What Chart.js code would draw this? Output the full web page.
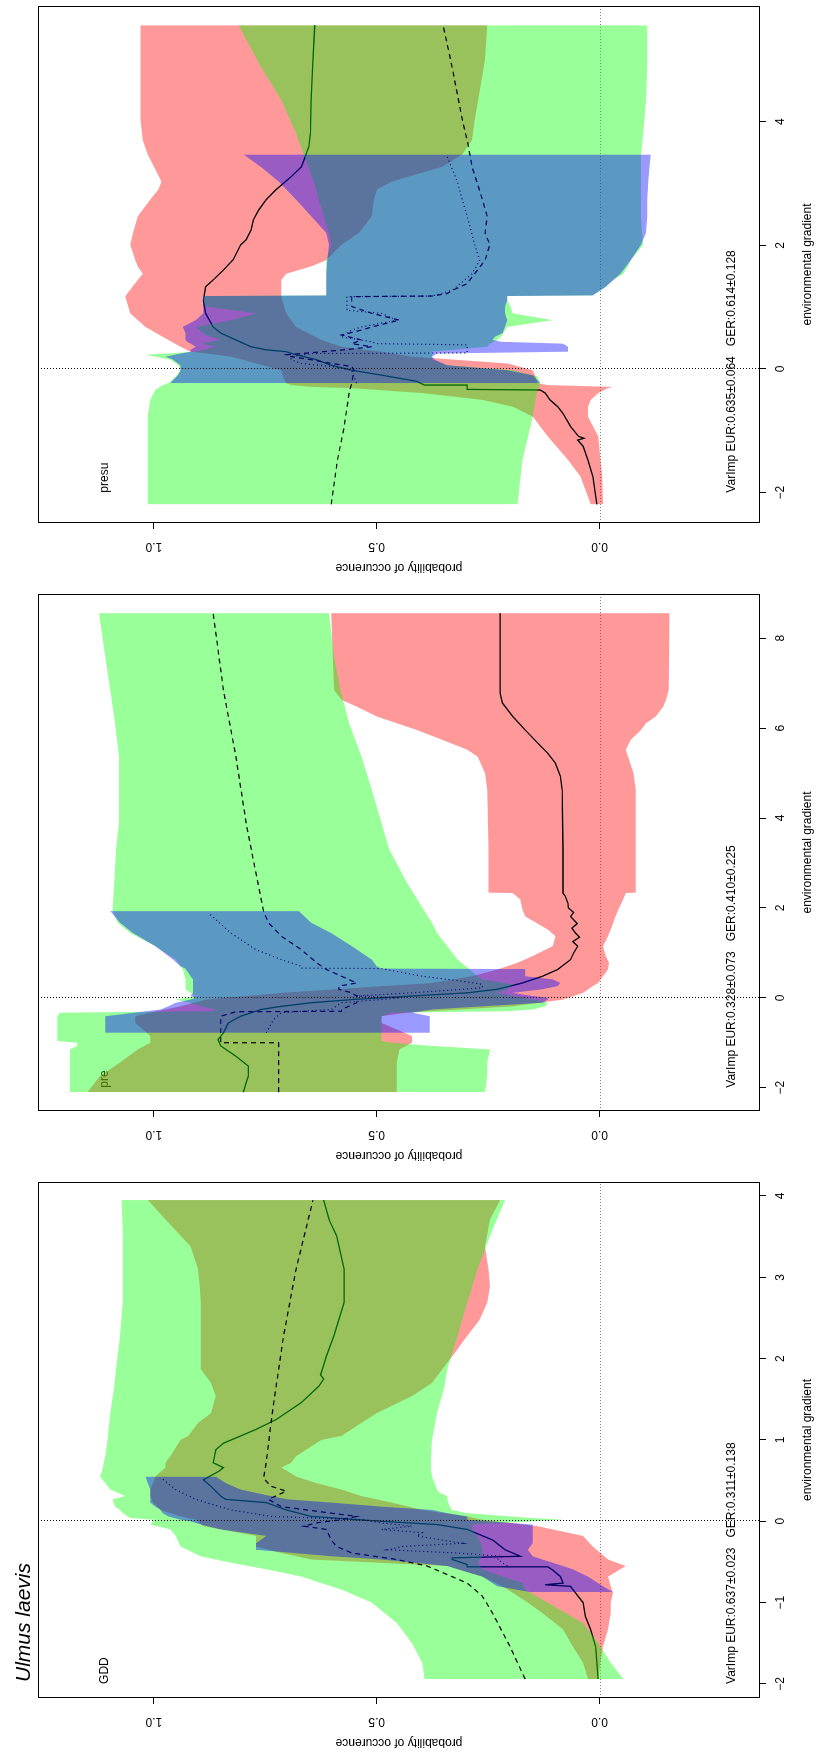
<!DOCTYPE html>
<html><head><meta charset="utf-8">
<script src="https://cdn.jsdelivr.net/npm/chart.js@4.4.1/dist/chart.umd.min.js"></script>
<style>
html,body{margin:0;padding:0;background:#fff;overflow:hidden;width:818px;height:1758px}
#root{position:absolute;left:0;top:0;width:1758px;height:818px;transform-origin:0 0;transform:translate(0px,1758px) rotate(-90deg);background:#fff}
#root canvas{position:absolute;top:0}
</style></head><body>
<div id="root">
<canvas id="cGDD" width="582" height="818" style="left:0px"></canvas>
<canvas id="cPre" width="583" height="818" style="left:587px"></canvas>
<canvas id="cPresu" width="583" height="818" style="left:1175px"></canvas>
</div>
<script>
const FONT = "'Liberation Sans', Arial, Helvetica, sans-serif";

// ---------- shared axis data ----------
const probTicks = [0, 0.5, 1];
const probTickLabels = ['0.0', '0.5', '1.0'];
const speciesTitle = 'Ulmus laevis';

// ---------- GDD ----------
const gddTicks = [-2, -1, 0, 1, 2, 3, 4];
const gddTickLabels = ['\u22122', '\u22121', '0', '1', '2', '3', '4'];
const gddLabel = 'GDD';
const gddVarImp = 'VarImp EUR:0.637\u00b10.023   GER:0.311\u00b10.138';
const gddRedX = [-1.94,-1.74,-1.54,-1.33,-1.13,-1.00,-0.88,-0.80,-0.68,-0.55,-0.47,-0.39,-0.31,-0.18,-0.06,0.02,0.06,0.14,0.23,0.31,0.39,0.47,0.55,0.61,0.66,0.72,0.80,1.00,1.05,1.21,1.33,1.54,1.70,1.87,2.07,2.28,2.48,2.69,2.89,3.10,3.38,3.71,3.95];
const gddRedHi = [0.026,0.037,0.060,0.082,0.128,0.161,0.195,0.218,0.263,0.342,0.647,0.714,0.771,0.771,0.889,0.906,0.940,0.985,1.002,1.008,1.008,1.002,0.997,0.985,0.974,0.974,0.963,0.940,0.923,0.901,0.872,0.861,0.872,0.895,0.895,0.895,0.895,0.895,0.897,0.901,0.918,0.974,1.014];
const gddRedLo = [0.003,-0.002,-0.008,-0.019,-0.025,-0.025,-0.030,-0.025,-0.019,-0.059,-0.019,-0.002,0.015,0.037,0.139,0.263,0.297,0.398,0.466,0.534,0.579,0.635,0.681,0.698,0.714,0.692,0.681,0.624,0.579,0.534,0.500,0.421,0.376,0.353,0.325,0.297,0.269,0.252,0.246,0.249,0.257,0.246,0.223];
const gddGrnX = [-1.94,-1.74,-1.50,-1.25,-1.00,-0.84,-0.76,-0.68,-0.59,-0.51,-0.43,-0.31,-0.18,-0.10,-0.04,0.00,0.02,0.04,0.10,0.14,0.18,0.27,0.31,0.35,0.39,0.47,0.55,0.64,0.80,1.00,1.33,1.66,1.87,2.28,2.69,3.10,3.51,3.95];
const gddGrnHi = [0.393,0.398,0.421,0.455,0.511,0.579,0.624,0.669,0.748,0.827,0.895,0.940,0.951,0.963,1.008,1.002,1.002,1.053,1.070,1.076,1.087,1.093,1.064,1.081,1.098,1.109,1.121,1.115,1.109,1.104,1.098,1.089,1.085,1.076,1.070,1.070,1.070,1.072];
const gddGrnLo = [-0.053,-0.025,0.003,0.037,0.116,0.167,0.173,0.218,0.263,0.274,0.263,0.263,0.274,0.286,0.286,0.150,0.082,0.150,0.297,0.331,0.336,0.342,0.342,0.359,0.365,0.370,0.376,0.378,0.378,0.376,0.365,0.348,0.342,0.319,0.297,0.274,0.246,0.212];
const gddBluX = [-0.87,-0.80,-0.68,-0.59,-0.55,-0.47,-0.43,-0.35,-0.27,-0.18,-0.10,-0.04,0.00,0.02,0.06,0.10,0.14,0.18,0.23,0.27,0.31,0.39,0.47,0.55];
const gddBluHi = [0.156,0.229,0.263,0.319,0.342,0.489,0.602,0.771,0.771,0.748,0.850,0.895,0.918,0.940,0.968,0.980,0.985,0.997,1.008,1.008,1.008,1.008,1.014,1.019];
const gddBluLo = [-0.030,-0.008,0.026,0.060,0.082,0.128,0.150,0.161,0.150,0.150,0.150,0.150,0.250,0.297,0.297,0.342,0.376,0.489,0.602,0.700,0.737,0.805,0.839,0.861];
const gddSolidX = [-1.94,-1.54,-1.33,-1.17,-1.00,-0.88,-0.80,-0.78,-0.76,-0.68,-0.60,-0.56,-0.56,-0.53,-0.47,-0.45,-0.43,-0.39,-0.35,-0.23,-0.10,-0.04,0.00,0.06,0.14,0.23,0.27,0.31,0.43,0.51,0.61,0.66,0.72,0.88,0.96,1.05,1.13,1.25,1.46,1.66,1.75,1.80,1.87,2.03,2.28,2.48,2.69,3.10,3.51,3.71,3.95];
const gddSolidY = [0.003,0.009,0.020,0.032,0.037,0.054,0.065,0.122,0.082,0.088,0.105,0.116,0.297,0.297,0.331,0.331,0.178,0.195,0.212,0.240,0.297,0.365,0.489,0.647,0.703,0.748,0.839,0.850,0.872,0.889,0.856,0.844,0.867,0.861,0.844,0.805,0.771,0.726,0.669,0.630,0.619,0.626,0.622,0.613,0.596,0.585,0.573,0.573,0.590,0.607,0.619];
const gddDashX = [-1.94,-1.54,-1.13,-0.92,-0.76,-0.68,-0.55,-0.47,-0.39,-0.31,-0.23,-0.10,-0.06,-0.02,0.02,0.06,0.10,0.18,0.27,0.37,0.43,0.53,0.72,1.13,1.46,2.28,3.10,3.95];
const gddDashY = [0.167,0.201,0.240,0.263,0.297,0.331,0.387,0.455,0.556,0.590,0.602,0.613,0.664,0.635,0.579,0.545,0.602,0.714,0.743,0.703,0.737,0.754,0.748,0.739,0.731,0.709,0.681,0.643];
const gddDotX = [-0.55,-0.47,-0.43,-0.39,-0.35,-0.31,-0.27,-0.18,-0.14,-0.10,-0.06,-0.02,0.02,0.06,0.14,0.27,0.39,0.53];
const gddDotY = [0.207,0.229,0.218,0.319,0.476,0.442,0.308,0.410,0.398,0.489,0.421,0.489,0.534,0.737,0.827,0.906,0.951,0.983];

// ---------- pre ----------
const preTicks = [-2, 0, 2, 4, 6, 8];
const preTickLabels = ['\u22122', '0', '2', '4', '6', '8'];
const preLabel = 'pre';
const preVarImp = 'VarImp EUR:0.328\u00b10.073   GER:0.410\u00b10.225';
const preRedX = [-2.10,-1.74,-1.44,-1.15,-1.00,-0.85,-0.56,-0.41,-0.33,-0.19,-0.04,0.11,0.26,0.33,0.48,0.63,0.78,0.93,1.15,1.37,1.52,1.81,1.96,2.19,2.33,2.34,3.30,4.63,5.00,5.37,5.52,5.74,5.96,6.11,6.26,6.48,6.63,6.85,8.56];
const preRedHi = [1.149,1.121,1.076,1.036,1.008,1.008,1.042,1.042,1.008,0.940,0.884,0.714,0.489,0.376,0.286,0.229,0.184,0.150,0.105,0.099,0.116,0.167,0.173,0.178,0.195,0.249,0.249,0.252,0.257,0.274,0.297,0.353,0.410,0.455,0.500,0.545,0.579,0.596,0.602];
const preRedLo = [0.455,0.455,0.455,0.449,0.421,0.421,0.489,0.489,0.432,0.195,0.082,0.037,0.015,0.003,-0.008,-0.019,-0.021,-0.014,-0.008,-0.019,-0.025,-0.036,-0.042,-0.053,-0.059,-0.081,-0.081,-0.081,-0.076,-0.064,-0.059,-0.070,-0.093,-0.104,-0.126,-0.143,-0.149,-0.155,-0.157];
const preGrnX = [-2.10,-1.74,-1.44,-1.15,-1.07,-1.00,-0.96,-0.85,-0.56,-0.41,-0.33,-0.30,-0.26,-0.19,-0.11,-0.04,0.04,0.11,0.19,0.30,0.41,0.48,0.63,0.85,1.15,1.44,1.67,1.93,2.56,3.30,3.89,4.63,5.37,6.11,6.85,7.59,8.56];
const preGrnHi = [1.188,1.188,1.188,1.188,1.172,1.172,1.217,1.217,1.217,1.217,1.211,0.872,0.861,0.895,0.918,0.951,0.906,0.918,0.929,0.929,0.929,0.931,0.935,0.951,0.997,1.053,1.081,1.093,1.089,1.085,1.078,1.078,1.078,1.087,1.098,1.109,1.123];
const preGrnLo = [0.257,0.252,0.252,0.246,0.376,0.466,0.489,0.489,0.489,0.489,0.466,0.207,0.150,0.122,0.116,0.150,0.195,0.229,0.207,0.195,0.263,0.274,0.291,0.319,0.342,0.365,0.376,0.393,0.432,0.472,0.489,0.511,0.534,0.562,0.581,0.596,0.607];
const preBluX = [-0.78,-0.56,-0.41,-0.33,-0.26,-0.19,-0.11,-0.04,0.00,0.04,0.11,0.19,0.26,0.33,0.41,0.48,0.56,0.64,0.65,0.70,0.85,1.15,1.44,1.67,1.93];
const preBluHi = [1.109,1.109,1.109,1.042,0.985,0.968,0.951,0.918,0.906,0.918,0.912,0.912,0.912,0.912,0.912,0.918,0.923,0.929,0.929,0.940,0.957,0.997,1.047,1.076,1.098];
const preBluLo = [0.381,0.381,0.381,0.421,0.376,0.263,0.128,0.116,0.116,0.150,0.195,0.128,0.094,0.088,0.105,0.167,0.167,0.167,0.489,0.500,0.511,0.556,0.602,0.647,0.675];
const preSolidX = [-2.10,-1.89,-1.74,-1.52,-1.30,-1.07,-0.93,-0.78,-0.56,-0.41,-0.26,-0.19,-0.11,-0.04,0.04,0.11,0.19,0.33,0.48,0.63,0.85,1.00,1.15,1.25,1.35,1.44,1.55,1.65,1.81,1.90,2.00,2.11,2.26,2.33,3.30,4.63,4.93,5.22,5.44,5.67,5.96,6.26,6.56,6.78,8.56];
const preSolidY = [0.799,0.793,0.788,0.788,0.816,0.850,0.856,0.844,0.833,0.805,0.760,0.714,0.647,0.556,0.421,0.297,0.229,0.173,0.128,0.094,0.065,0.058,0.049,0.060,0.045,0.054,0.062,0.050,0.065,0.058,0.070,0.071,0.077,0.082,0.082,0.084,0.088,0.099,0.116,0.139,0.167,0.195,0.218,0.223,0.223];
const preDashX = [-2.10,-1.00,-1.00,-0.41,-0.31,-0.30,-0.26,-0.11,0.04,0.11,0.19,0.26,0.33,0.48,0.63,0.78,1.07,1.37,1.67,1.93,3.07,3.89,5.37,6.85,8.56];
const preDashY = [0.720,0.720,0.850,0.850,0.816,0.579,0.579,0.545,0.545,0.556,0.585,0.585,0.545,0.579,0.613,0.635,0.669,0.714,0.743,0.754,0.777,0.793,0.816,0.844,0.867];
const preDotX = [-0.78,-0.48,-0.33,-0.26,-0.11,0.00,0.04,0.11,0.22,0.30,0.37,0.48,0.65,0.66,0.70,0.85,1.07,1.44,1.89];
const preDotY = [0.748,0.731,0.714,0.602,0.579,0.444,0.545,0.421,0.263,0.263,0.308,0.398,0.489,0.669,0.669,0.714,0.771,0.827,0.878];

// ---------- presu ----------
const presuTicks = [-2, 0, 2, 4];
const presuTickLabels = ['\u22122', '0', '2', '4'];
const presuLabel = 'presu';
const presuVarImp = 'VarImp EUR:0.635\u00b10.064   GER:0.614\u00b10.128';
const presuRedX = [-2.19,-1.74,-1.47,-1.09,-0.77,-0.61,-0.50,-0.39,-0.31,-0.29,-0.26,-0.23,-0.12,-0.02,0.09,0.20,0.28,0.36,0.47,0.68,0.90,1.17,1.22,1.44,1.54,1.66,1.76,2.01,2.20,2.47,2.74,2.90,3.03,3.27,3.47,3.70,4.03,4.50,5.00,5.56];
const presuRedHi = [0.020,0.043,0.071,0.116,0.150,0.195,0.263,0.398,0.556,0.647,0.692,0.703,0.710,0.714,0.771,0.827,0.918,0.940,0.968,1.019,1.053,1.064,1.060,1.036,1.025,1.036,1.042,1.053,1.047,1.036,1.008,0.990,0.983,1.000,1.014,1.025,1.030,1.030,1.030,1.030];
const presuRedLo = [-0.008,-0.006,-0.002,0.003,0.026,0.026,0.020,0.003,-0.019,-0.030,0.116,0.139,0.144,0.150,0.207,0.421,0.489,0.579,0.624,0.681,0.703,0.714,0.714,0.714,0.703,0.647,0.613,0.579,0.540,0.511,0.506,0.500,0.466,0.353,0.308,0.286,0.280,0.269,0.257,0.252];
const presuGrnX = [-2.19,-1.47,-0.77,-0.50,-0.34,-0.26,-0.23,-0.12,-0.02,0.06,0.15,0.23,0.28,0.36,0.41,0.47,0.55,0.68,0.79,0.90,1.01,1.11,1.18,1.19,1.33,1.44,1.54,1.66,1.76,2.01,2.20,2.47,2.74,3.03,3.47,3.81,4.35,4.89,5.56];
const presuGrnHi = [1.014,1.014,1.014,1.008,0.997,0.980,0.968,0.951,0.940,0.945,0.963,1.019,0.906,0.861,0.895,0.850,0.884,0.906,0.827,0.771,0.884,0.889,0.889,0.613,0.613,0.613,0.613,0.613,0.613,0.602,0.607,0.619,0.630,0.641,0.664,0.681,0.714,0.760,0.810];
const presuGrnLo = [0.184,0.173,0.150,0.144,0.139,0.133,0.133,0.139,0.195,0.342,0.376,0.376,0.376,0.252,0.246,0.229,0.218,0.207,0.105,0.195,0.200,0.207,0.207,0.015,-0.014,-0.030,-0.053,-0.064,-0.070,-0.098,-0.095,-0.093,-0.093,-0.093,-0.093,-0.098,-0.104,-0.107,-0.107];
const presuBluX = [-0.23,-0.18,-0.10,-0.02,0.06,0.15,0.20,0.25,0.28,0.31,0.36,0.41,0.44,0.47,0.52,0.58,0.68,0.79,0.90,1.01,1.11,1.18,1.19,1.33,1.54,1.76,2.01,2.20,2.47,2.74,3.03,3.27,3.47];
const presuBluHi = [0.963,0.957,0.946,0.940,0.940,0.957,0.974,0.940,0.918,0.918,0.906,0.918,0.925,0.929,0.929,0.929,0.935,0.906,0.889,0.889,0.889,0.889,0.613,0.613,0.613,0.611,0.607,0.613,0.647,0.681,0.720,0.760,0.799];
const presuBluLo = [0.133,0.139,0.150,0.207,0.342,0.370,0.376,0.365,0.071,0.071,0.071,0.082,0.220,0.240,0.235,0.218,0.212,0.207,0.212,0.212,0.207,0.207,0.015,-0.014,-0.047,-0.070,-0.093,-0.104,-0.107,-0.107,-0.109,-0.112,-0.115];
const presuSolidX = [-2.19,-1.74,-1.47,-1.25,-1.15,-1.12,-1.09,-0.93,-0.72,-0.61,-0.50,-0.39,-0.34,-0.33,-0.27,-0.26,-0.20,-0.10,-0.02,0.06,0.15,0.23,0.28,0.31,0.36,0.47,0.58,0.68,0.90,1.11,1.33,1.44,1.60,1.77,2.01,2.09,2.25,2.41,2.57,2.74,2.90,3.11,3.27,3.44,3.60,3.81,4.35,4.89,5.56];
const presuSolidY = [0.006,0.015,0.026,0.037,0.049,0.035,0.047,0.065,0.082,0.094,0.111,0.122,0.133,0.297,0.297,0.393,0.410,0.489,0.556,0.602,0.635,0.681,0.703,0.748,0.782,0.816,0.850,0.867,0.884,0.889,0.884,0.867,0.844,0.822,0.805,0.793,0.782,0.777,0.765,0.748,0.726,0.692,0.669,0.660,0.652,0.649,0.647,0.644,0.639];
const presuDashX = [-2.19,-1.47,-0.93,-0.39,-0.23,-0.02,0.04,0.09,0.15,0.20,0.23,0.25,0.31,0.36,0.41,0.47,0.55,0.63,0.68,0.79,0.90,1.01,1.17,1.18,1.22,1.27,1.38,1.49,1.60,1.76,2.01,2.20,2.47,2.74,3.00,3.27,3.47,3.70,4.03,4.89,5.56];
const presuDashY = [0.602,0.588,0.573,0.562,0.556,0.551,0.556,0.602,0.647,0.692,0.703,0.669,0.573,0.511,0.556,0.534,0.579,0.534,0.511,0.449,0.511,0.556,0.556,0.376,0.342,0.331,0.297,0.286,0.274,0.257,0.246,0.257,0.252,0.263,0.274,0.286,0.291,0.297,0.308,0.331,0.351];
const presuDotX = [-0.23,-0.12,-0.02,0.04,0.09,0.15,0.20,0.25,0.26,0.39,0.41,0.44,0.52,0.63,0.68,0.79,0.90,0.95,1.17,1.18,1.27,1.54,1.76,2.01,2.47,2.74,3.03,3.47];
const presuDotY = [0.545,0.551,0.556,0.602,0.669,0.692,0.692,0.647,0.297,0.297,0.500,0.511,0.579,0.556,0.534,0.455,0.489,0.567,0.567,0.376,0.331,0.286,0.269,0.280,0.297,0.308,0.319,0.344];

// ---------- drawing ----------
const pts = (xs, ys) => xs.map((x, i) => ({x: x, y: ys[i]}));

const decor = {
  id: 'decor',
  beforeDatasetsDraw(chart, args, o) {
    const {ctx, chartArea: a, scales: {x, y}} = chart;
    ctx.save();
    ctx.strokeStyle = '#808080'; ctx.lineWidth = 1; ctx.setLineDash([1, 2]);
    const py = Math.round(y.getPixelForValue(0)) + 0.5;
    ctx.beginPath(); ctx.moveTo(a.left, py); ctx.lineTo(a.right, py); ctx.stroke();
    ctx.setLineDash([]);
    ctx.fillStyle = '#000';
    ctx.font = '12px ' + FONT;
    ctx.textAlign = 'left'; ctx.textBaseline = 'middle';
    ctx.fillText(o.label, x.getPixelForValue(o.textX), y.getPixelForValue(o.labelY));
    ctx.fillText(o.varimp, x.getPixelForValue(o.textX), y.getPixelForValue(o.varimpY));
    ctx.restore();
  },
  afterDatasetsDraw(chart) {
    const {ctx, chartArea: a, scales: {x}} = chart;
    ctx.save();
    ctx.strokeStyle = '#000'; ctx.lineWidth = 1; ctx.setLineDash([1, 2]);
    const px = Math.round(x.getPixelForValue(0)) + 0.5;
    ctx.beginPath(); ctx.moveTo(px, a.top); ctx.lineTo(px, a.bottom); ctx.stroke();
    ctx.restore();
  },
  afterDraw(chart, args, o) {
    const {ctx, chartArea: a, scales: {y}} = chart;
    ctx.save();
    ctx.strokeStyle = '#000'; ctx.lineWidth = 1;
    ctx.strokeRect(a.left + 0.5, a.top + 0.5, a.right - a.left - 1, a.bottom - a.top - 1);
    ctx.fillStyle = '#000'; ctx.font = '12px ' + FONT;
    ctx.textAlign = 'center'; ctx.textBaseline = 'middle';
    probTicks.forEach((v, i) => {
      ctx.save();
      ctx.translate(a.left - 23, y.getPixelForValue(v));
      ctx.rotate(-Math.PI / 2);
      ctx.fillText(probTickLabels[i], 0, 0);
      ctx.restore();
    });
    if (o.title) {
      ctx.font = 'italic 21px ' + FONT;
      ctx.textAlign = 'left'; ctx.textBaseline = 'alphabetic';
      ctx.fillText(o.title, 76, 30);
    }
    ctx.restore();
  }
};

function makePanel(id, p) {
  const ds = [];
  const band = (xs, hi, lo, color, order) => {
    ds.push({data: pts(xs, hi), fill: '+1', backgroundColor: color, borderColor: 'rgba(0,0,0,0)', borderWidth: 0, pointRadius: 0, order: order});
    ds.push({data: pts(xs, lo), fill: false, borderColor: 'rgba(0,0,0,0)', borderWidth: 0, pointRadius: 0, order: order});
  };
  const line = (xs, ys, dash, w, order) => {
    ds.push({data: pts(xs, ys), fill: false, borderColor: '#000', borderWidth: w, borderDash: dash, pointRadius: 0, order: order});
  };
  band(p.red[0], p.red[1], p.red[2], 'rgba(255,0,0,0.4)', 60);
  line(p.solid[0], p.solid[1], [], 1.3, 50);
  band(p.grn[0], p.grn[1], p.grn[2], 'rgba(0,255,0,0.4)', 40);
  line(p.dash[0], p.dash[1], [5, 4], 1.2, 30);
  line(p.dot[0], p.dot[1], [1, 3], 1.2, 20);
  band(p.blu[0], p.blu[1], p.blu[2], 'rgba(0,0,255,0.4)', 10);

  new Chart(document.getElementById(id), {
    type: 'line',
    data: {datasets: ds},
    plugins: [decor],
    options: {
      responsive: false, animation: false, devicePixelRatio: 1, events: [],
      layout: {padding: {top: 38, right: 6, bottom: 0, left: 0}},
      elements: {line: {tension: 0}},
      plugins: {
        legend: {display: false}, tooltip: {enabled: false},
        decor: {label: p.label, varimp: p.varimp, textX: -2, labelY: 1.11, varimpY: -0.297, title: p.title || ''}
      },
      scales: {
        x: {
          type: 'linear', min: p.xMin, max: p.xMax,
          afterBuildTicks: s => { s.ticks = p.ticks.map(v => ({value: v})); },
          afterFit: s => { s.height = 58; },
          grid: {display: true, drawOnChartArea: false, drawTicks: true, tickLength: 6, color: '#000', lineWidth: 1},
          border: {display: false},
          ticks: {color: '#000', font: {family: FONT, size: 12}, padding: 7, maxRotation: 0, minRotation: 0, autoSkip: false,
                  callback: (v, i) => p.tickLabels[i]},
          title: {display: true, text: 'environmental gradient', color: '#000', font: {family: FONT, size: 12}, padding: {top: 0, bottom: 3}}
        },
        y: {
          type: 'linear', min: -0.36, max: 1.26,
          afterBuildTicks: s => { s.ticks = probTicks.map(v => ({value: v})); },
          afterFit: s => { s.width = 60; },
          grid: {display: true, drawOnChartArea: false, drawTicks: true, tickLength: 6, color: '#000', lineWidth: 1},
          border: {display: false},
          ticks: {display: false},
          title: {display: true, text: 'probability of occurence', color: '#000', font: {family: FONT, size: 12}, padding: {top: 8, bottom: 0}}
        }
      }
    }
  });
}

makePanel('cGDD', {xMin: -2.173, xMax: 4.172, ticks: gddTicks, tickLabels: gddTickLabels, label: gddLabel, varimp: gddVarImp, title: speciesTitle,
  red: [gddRedX, gddRedHi, gddRedLo], grn: [gddGrnX, gddGrnHi, gddGrnLo], blu: [gddBluX, gddBluHi, gddBluLo],
  solid: [gddSolidX, gddSolidY], dash: [gddDashX, gddDashY], dot: [gddDotX, gddDotY]});
makePanel('cPre', {xMin: -2.519, xMax: 8.985, ticks: preTicks, tickLabels: preTickLabels, label: preLabel, varimp: preVarImp,
  red: [preRedX, preRedHi, preRedLo], grn: [preGrnX, preGrnHi, preGrnLo], blu: [preBluX, preBluHi, preBluLo],
  solid: [preSolidX, preSolidY], dash: [preDashX, preDashY], dot: [preDotX, preDotY]});
makePanel('cPresu', {xMin: -2.491, xMax: 5.871, ticks: presuTicks, tickLabels: presuTickLabels, label: presuLabel, varimp: presuVarImp,
  red: [presuRedX, presuRedHi, presuRedLo], grn: [presuGrnX, presuGrnHi, presuGrnLo], blu: [presuBluX, presuBluHi, presuBluLo],
  solid: [presuSolidX, presuSolidY], dash: [presuDashX, presuDashY], dot: [presuDotX, presuDotY]});
</script>
</body></html>
